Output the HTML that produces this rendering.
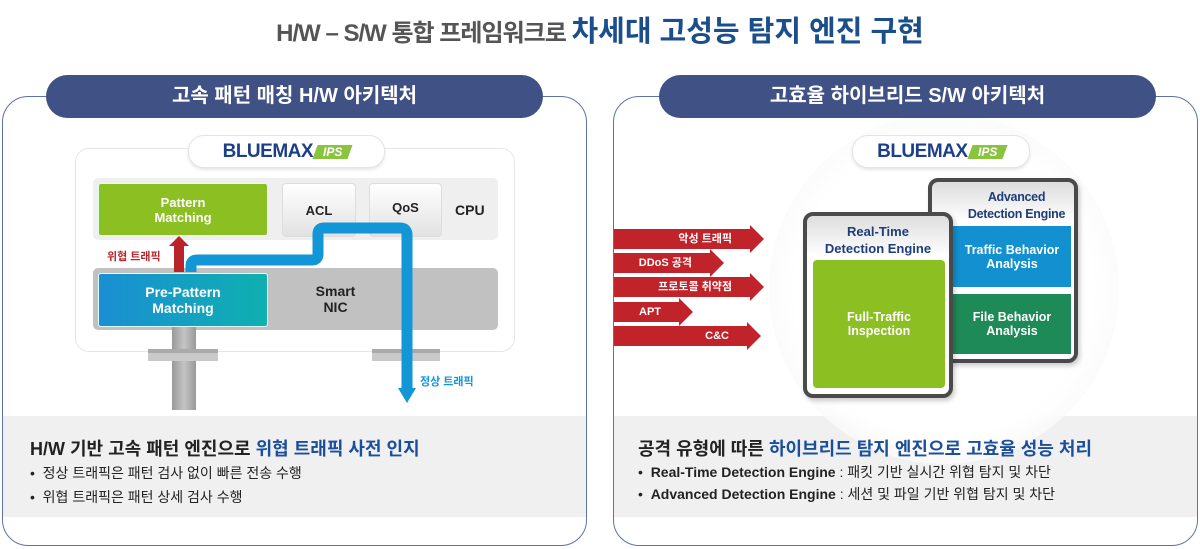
<!DOCTYPE html>
<html><head><meta charset="utf-8"><style>
*{margin:0;padding:0;box-sizing:border-box}
body{width:1200px;height:549px;background:#fff;position:relative;overflow:hidden;font-family:"Liberation Sans","Noto Sans CJK KR",sans-serif}
.a{position:absolute}
.panel{position:absolute;border:1.5px solid #5d72a8;border-radius:26px;background:#fff;overflow:hidden}
.band{position:absolute;left:0;right:0;top:319px;height:101px;background:#f0f0f1}
.pill{position:absolute;background:#3f5185;color:#fff;border-radius:22px;height:43px;top:75px;font-size:20px;font-weight:bold;text-align:center;line-height:43px}
.c{display:flex;align-items:center;justify-content:center;text-align:center;font-weight:bold}
.tab{position:absolute;background:#fff;border:1.5px solid #e4e4e4;border-radius:16px;height:33px;display:flex;align-items:center;justify-content:center;box-shadow:0 2px 3px rgba(0,0,0,.1)}
.bm{font-weight:900;color:#1d3f8a;font-size:19px;letter-spacing:-.5px}
.ips{display:inline-block;background:#8ac43f;color:#fff;font-style:italic;font-size:12px;font-weight:bold;padding:0 8px;margin-left:2px;transform:skewX(-20deg);position:relative;top:0px;line-height:14px}
.ips span{display:inline-block;transform:skewX(20deg)}
.arr{position:absolute;height:20px;background:#c0232a;color:#fff;font-size:11px;font-weight:bold;line-height:20px;text-align:right;padding-right:18px}
.arr:after{content:"";position:absolute;right:-14px;top:-4px;border-left:14px solid #c0232a;border-top:14px solid transparent;border-bottom:14px solid transparent}
.h{font-size:18px;font-weight:bold;color:#222}
.b{font-size:14px;color:#222}
</style></head><body>
<div class="a" style="left:0;width:1200px;top:8px;text-align:center;white-space:nowrap"><span style="font-size:24px;font-weight:bold;color:#555;letter-spacing:-1px">H/W – S/W 통합 프레임워크로 </span><span style="font-size:29px;font-weight:bold;color:#1b4f8c">차세대 고성능 탐지 엔진 구현</span></div>

<div class="panel" style="left:2px;top:96px;width:585px;height:450px"><div class="band"></div></div>
<div class="panel" style="left:613px;top:96px;width:585px;height:450px"><div class="band"></div>
<div class="a" style="left:155px;top:17px;width:350px;height:350px;border-radius:50%;background:radial-gradient(circle,rgba(255,255,255,1) 60%,rgba(240,240,240,.6) 85%,rgba(250,250,250,.3) 100%)"></div></div>
<div class="pill" style="left:46px;width:497px">고속 패턴 매칭 H/W 아키텍처</div>
<div class="pill" style="left:659px;width:497px">고효율 하이브리드 S/W 아키텍처</div>

<!-- left diagram -->
<div class="a" style="left:75px;top:148px;width:440px;height:204px;border:1.5px solid #e6e6e6;border-radius:14px;background:#fff"></div>
<div class="tab" style="left:188px;top:135px;width:197px"><span class="bm">BLUEMAX</span><span class="ips"><span>IPS</span></span></div>
<div class="a" style="left:93px;top:178px;width:405px;height:62px;background:#efefef;border-radius:5px"></div>
<div class="a c" style="left:98px;top:183px;width:170px;height:53px;background:#8cbf22;color:#fff;font-size:13px;border-radius:3px;border:1px solid #dfe">Pattern<br>Matching</div>
<div class="a c" style="left:282px;top:183px;width:74px;height:54px;background:linear-gradient(#fff,#e2e2e2);border:1px solid #ddd;border-radius:4px;font-size:13px;color:#222">ACL</div>
<div class="a c" style="left:369px;top:183px;width:73px;height:54px;background:linear-gradient(#fff,#e2e2e2);border:1px solid #ddd;border-radius:4px;font-size:13px;color:#222;padding-bottom:6px">QoS</div>
<div class="a" style="left:455px;top:202px;font-size:14px;font-weight:bold;color:#222">CPU</div>
<div class="a c" style="left:93px;top:268px;width:405px;height:62px;background:#c1c1c1;border-radius:5px;font-size:14px;color:#222;padding-left:80px">Smart<br>NIC</div>
<div class="a" style="left:172px;top:327px;width:24px;height:83px;background:linear-gradient(90deg,#999,#c4c4c4,#999)"></div>
<div class="a" style="left:148px;top:349px;width:70px;height:12px;background:#c9c9c9;border-top:4px solid #aaa"></div>
<div class="a" style="left:372px;top:349px;width:68px;height:12px;background:#c9c9c9;border-top:4px solid #aaa"></div>
<svg class="a" style="left:0;top:0" width="600" height="420">
<path d="M179 272 V244" stroke="#b8242a" stroke-width="10" fill="none"/>
<path d="M169 246 L179 236 L189 246Z" fill="#b8242a"/>
<path d="M191 272 V266 Q191 260 197 260 H312 Q318 260 318 254 V234 Q318 228 324 228 H400 Q407 228 407 235 V390" stroke="#1296d6" stroke-width="11" fill="none"/>
<path d="M398 388 L407 403 L416 388Z" fill="#1296d6"/>
</svg>
<div class="a c" style="left:98px;top:273px;width:170px;height:54px;background:linear-gradient(90deg,#1a8fd3,#0fb0b0);color:#fff;font-size:14px;border-radius:3px;border:1px solid #dff">Pre-Pattern<br>Matching</div>
<div class="a" style="left:107px;top:248px;font-size:11px;font-weight:bold;color:#b8242a">위협 트래픽</div>
<div class="a" style="left:420px;top:373px;font-size:11px;font-weight:bold;color:#1296d6">정상 트래픽</div>

<!-- right diagram -->
<div class="tab" style="left:852px;top:135px;width:178px"><span class="bm">BLUEMAX</span><span class="ips"><span>IPS</span></span></div>
<div class="arr" style="left:614px;top:229px;width:136px">악성 트래픽</div>
<div class="arr" style="left:614px;top:253px;width:96px">DDoS 공격</div>
<div class="arr" style="left:614px;top:277px;width:136px">프로토콜 취약점</div>
<div class="arr" style="left:614px;top:302px;width:65px">APT</div>
<div class="arr" style="left:614px;top:326px;width:133px">C&amp;C</div>
<div class="a" style="left:928px;top:178px;width:150px;height:185px;border:4px solid #4a4a4a;border-radius:10px;background:linear-gradient(#ddd,#fff 40px);box-shadow:2px 3px 5px rgba(0,0,0,.2)"></div>
<div class="a" style="left:955px;top:189px;width:123px;text-align:center;font-size:12.5px;font-weight:bold;color:#1e3d7a;line-height:17px;white-space:nowrap;letter-spacing:-.3px">Advanced<br>Detection Engine</div>
<div class="a c" style="left:953px;top:226px;width:118px;height:61px;background:#1290cf;color:#fff;font-size:12.5px">Traffic Behavior<br>Analysis</div>
<div class="a c" style="left:953px;top:294px;width:118px;height:60px;background:#1e8a57;color:#fff;font-size:12.5px">File Behavior<br>Analysis</div>
<div class="a" style="left:803px;top:212px;width:150px;height:186px;border:4px solid #4a4a4a;border-radius:10px;background:linear-gradient(#ddd,#fff 40px);box-shadow:2px 3px 5px rgba(0,0,0,.2)"></div>
<div class="a" style="left:807px;top:223px;width:142px;text-align:center;font-size:13px;font-weight:bold;color:#1e3d7a;line-height:17px">Real-Time<br>Detection Engine</div>
<div class="a c" style="left:813px;top:260px;width:132px;height:128px;background:#8cbf22;color:#fff;font-size:12.5px;border-radius:4px">Full-Traffic<br>Inspection</div>

<!-- bottom text -->
<div class="a h" style="left:30px;top:435px">H/W 기반 고속 패턴 엔진으로 <span style="color:#1b4f9c">위협 트래픽 사전 인지</span></div>
<div class="a b" style="left:30px;top:463px">•&nbsp; 정상 트래픽은 패턴 검사 없이 빠른 전송 수행</div>
<div class="a b" style="left:30px;top:487px">•&nbsp; 위협 트래픽은 패턴 상세 검사 수행</div>
<div class="a h" style="left:638px;top:435px">공격 유형에 따른 <span style="color:#1b4f9c">하이브리드 탐지 엔진으로 고효율 성능 처리</span></div>
<div class="a b" style="left:638px;top:462px">•&nbsp; <b>Real-Time Detection Engine</b> : 패킷 기반 실시간 위협 탐지 및 차단</div>
<div class="a b" style="left:638px;top:484px">•&nbsp; <b>Advanced Detection Engine</b> : 세션 및 파일 기반 위협 탐지 및 차단</div>
</body></html>
